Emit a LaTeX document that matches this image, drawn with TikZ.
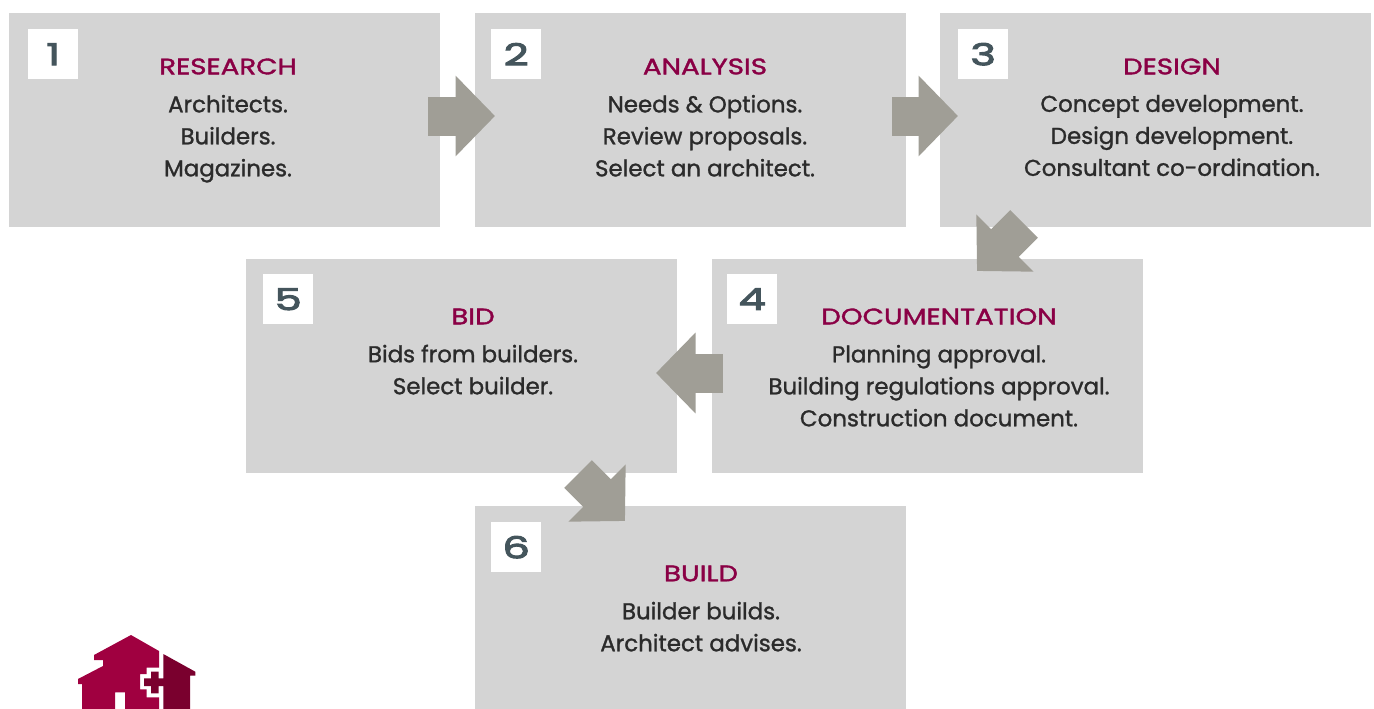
\documentclass[tikz,border=0pt]{standalone}
\usepackage{fontspec}
\setmainfont{Poppins}[FakeBold=1.2]
\newfontfamily\titlefont{Poppins}[FakeBold=1.6,FakeStretch=1.23]
\newfontfamily\numfont{Poppins}[FakeBold=3.5,FakeStretch=1.45]
\usetikzlibrary{positioning,arrows.meta}
\definecolor{boxgray}{HTML}{D4D4D4}
\definecolor{arrowgray}{HTML}{A09E96}
\definecolor{wine}{HTML}{8A0045}
\definecolor{logored}{HTML}{A00040}
\definecolor{logodark}{HTML}{7A002E}
\definecolor{numgray}{HTML}{44555C}
\definecolor{inkgray}{HTML}{2B2B2B}
\begin{document}
\begin{tikzpicture}
[x=1pt,y=1pt,
box/.style={fill=boxgray,minimum width=431pt,minimum height=214pt,inner sep=0pt,outer sep=0pt},
num/.style={fill=white,text=numgray,minimum size=50pt,inner sep=0pt,font=\numfont\fontsize{30}{30}\selectfont},
heading/.style={text=wine,inner sep=0pt,font=\titlefont\fontsize{22.5}{22.5}\selectfont},
body/.style={text=inkgray,inner sep=0pt,align=center,font=\fontsize{22.9}{32}\selectfont},
flow/.style={draw=arrowgray,line width=39pt,-{Triangle[length=39.5pt,width=78.5pt,fill=arrowgray]}}]
\useasboundingbox (0,0) rectangle (1374,-709);
\node[box,anchor=north west](box1) at (9,-13){};
\node[box,right=35pt of box1](box2){};
\node[box,right=34pt of box2](box3){};
\node[box,anchor=north west](box4) at (712,-259){};
\node[box,left=35pt of box4](box5){};
\node[box,anchor=north west,minimum height=203pt](box6) at (475,-506){};
\node[num,anchor=north west](n1) at ([shift={(19pt,-16pt)}]box1.north west){1};
\node[num,anchor=north west](n2) at ([shift={(16pt,-16pt)}]box2.north west){2};
\node[num,anchor=north west](n3) at ([shift={(18pt,-16pt)}]box3.north west){3};
\node[num,anchor=north west](n4) at ([shift={(15pt,-15pt)}]box4.north west){4};
\node[num,anchor=north west](n5) at ([shift={(17pt,-15pt)}]box5.north west){5};
\node[num,anchor=north west](n6) at ([shift={(16pt,-16pt)}]box6.north west){6};
\node[heading](t1) at (228,-66.5){RESEARCH};
\node[heading](t2) at (705,-66.5){ANALYSIS};
\node[heading](t3) at (1172,-66.5){DESIGN};
\node[heading](t4) at (939,-316.5){DOCUMENTATION};
\node[heading](t5) at (473,-316.5){BID};
\node[heading](t6) at (701,-573.5){BUILD};
\node[body,below=20pt of t1](b1){Architects.\\Builders.\\Magazines.};
\node[body,below=20pt of t2](b2){Needs \& Options.\\Review proposals.\\Select an architect.};
\node[body,below=20pt of t3](b3){Concept development.\\Design development.\\Consultant co-ordination.};
\node[body,below=20pt of t4](b4){Planning approval.\\Building regulations approval.\\Construction document.};
\node[body,below=20pt of t5](b5){Bids from builders.\\Select builder.};
\node[body,below=20pt of t6](b6){Builder builds.\\Architect advises.};
\draw[flow] ([shift={(-12pt,4pt)}]box1.east) -- ([shift={(20pt,4pt)}]box2.west);
\draw[flow] ([shift={(-14pt,4pt)}]box2.east) -- ([shift={(18pt,4pt)}]box3.west);
\draw[flow] ([shift={(84pt,3pt)}]box3.south west) -- ([shift={(265pt,-12pt)}]box4.north west);
\draw[flow] ([shift={(11pt,-7pt)}]box4.west) -- ([shift={(-21pt,-7pt)}]box5.east);
\draw[flow] ([shift={(332pt,-1pt)}]box5.south west) -- ([shift={(150pt,-15pt)}]box6.north west);
\fill[logored] (131,-635) -- (159,-651) -- (159,-667.7) -- (146.7,-667.7) -- (146.7,-674) -- (140,-674) -- (140,-689.3) -- (146.7,-689.3) -- (146.7,-697.3) -- (159,-697.3) -- (159,-709) -- (125,-709) -- (125,-692.3) -- (115,-692.3) -- (115,-709) -- (82,-709) -- (82,-684) -- (78,-684) -- (78,-679) -- (103,-666) -- (103,-660) -- (94,-660) -- (94,-655) -- cycle;
\fill[logodark] (163.3,-654) -- (195.3,-671.7) -- (195.3,-675.7) -- (190,-675.7) -- (190,-709) -- (163.3,-709) -- (163.3,-686) -- (158.7,-686) -- (158.7,-693.3) -- (151,-693.3) -- (151,-686) -- (144,-686) -- (144,-678.3) -- (151,-678.3) -- (151,-671.7) -- (158.7,-671.7) -- (158.7,-678.3) -- (163.3,-678.3) -- cycle;
\end{tikzpicture}
\end{document}
